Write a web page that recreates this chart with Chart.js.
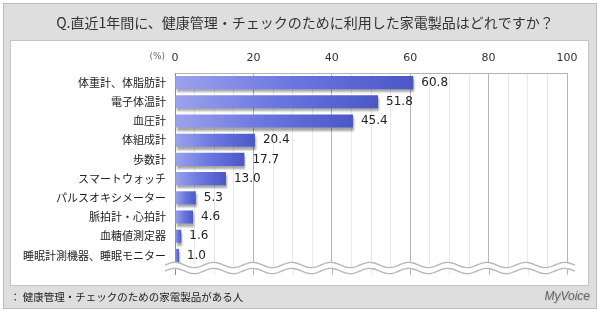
<!DOCTYPE html>
<html>
<head>
<meta charset="utf-8">
<script src="https://cdn.jsdelivr.net/npm/chart.js@4.4.1/dist/chart.umd.min.js"></script>
<style>
  html, body { margin: 0; padding: 0; background: #fff; }
  #wrap { width: 600px; height: 312px; }
</style>
</head>
<body>
<div id="wrap"><canvas id="chart" width="600" height="312"></canvas></div>
<script>
// chart data
const titleText = 'Q.直近1年間に、健康管理・チェックのために利用した家電製品はどれですか？';
const footnoteText = '： 健康管理・チェックのための家電製品がある人';
const unitLabel = '(%)';
const categories = ['体重計、体脂肪計', '電子体温計', '血圧計', '体組成計', '歩数計', 'スマートウォッチ', 'パルスオキシメーター', '脈拍計・心拍計', '血糖値測定器', '睡眠計測機器、睡眠モニター'];
const values = [60.8, 51.8, 45.4, 20.4, 17.7, 13.0, 5.3, 4.6, 1.6, 1.0];
const tickLabels = [0, 20, 40, 60, 80, 100];

const jpFont = '"Noto Sans CJK JP", "Noto Sans", sans-serif';
const numFont = '"DejaVu Sans", Verdana, sans-serif';

function gridColor(v) {
  if (v === 0) return '#8c8c8c';
  return v % 20 === 0 ? '#b4b4b4' : '#e8e8e8';
}

// frame, title and footer behind the chart
const framePlugin = {
  id: 'frame',
  beforeDraw(chart) {
    const ctx = chart.ctx;
    ctx.save();
    ctx.fillStyle = '#fff';
    ctx.fillRect(0, 0, 600, 312);
    ctx.fillStyle = '#dedede';
    ctx.fillRect(3.5, 3.5, 593, 305);
    ctx.strokeStyle = '#bdbdbd';
    ctx.lineWidth = 1;
    ctx.strokeRect(3.5, 3.5, 593, 305);
    ctx.fillStyle = '#fff';
    ctx.fillRect(10.5, 40.5, 578, 245);
    ctx.strokeStyle = '#c4c4c4';
    ctx.strokeRect(10.5, 40.5, 578, 245);

    ctx.fillStyle = '#333';
    ctx.textBaseline = 'middle';
    ctx.textAlign = 'center';
    ctx.font = '14px ' + jpFont;
    ctx.fillText(titleText, 305, 23);

    ctx.textAlign = 'left';
    ctx.font = '10.5px ' + jpFont;
    ctx.fillStyle = '#222';
    ctx.fillText(footnoteText, 10, 297);

    ctx.textAlign = 'right';
    ctx.font = 'italic 12px "Liberation Sans", Arial, sans-serif';
    ctx.fillStyle = '#c8c8c8';
    ctx.fillText('MyVoice', 591, 298);
    ctx.fillStyle = '#666';
    ctx.fillText('MyVoice', 590, 297);

    ctx.font = '9px ' + numFont;
    ctx.fillStyle = '#666';
    ctx.fillText(unitLabel, chart.chartArea.left - 10, 57);
    ctx.restore();
  },
  beforeDatasetsDraw(chart) {
    const ctx = chart.ctx;
    ctx.save();
    ctx.shadowColor = 'rgba(0,0,0,0.35)';
    ctx.shadowOffsetX = 1;
    ctx.shadowOffsetY = 3;
    ctx.shadowBlur = 2;
  },
  afterDatasetsDraw(chart) {
    const ctx = chart.ctx;
    ctx.restore();
    // value labels
    ctx.save();
    ctx.font = '12px ' + numFont;
    ctx.fillStyle = '#222';
    ctx.textAlign = 'left';
    ctx.textBaseline = 'middle';
    chart.getDatasetMeta(0).data.forEach((bar, i) => {
      ctx.fillText(values[i].toFixed(1), bar.x + 8, bar.y);
    });
    ctx.restore();
  },
  afterDraw(chart) {
    const ctx = chart.ctx;
    const area = chart.chartArea;
    const xs = chart.scales.x;
    ctx.save();
    // grid lines run on past the break
    xs.ticks.forEach(t => {
      const x = Math.round(xs.getPixelForValue(t.value)) + 0.5;
      ctx.strokeStyle = gridColor(t.value);
      ctx.beginPath();
      ctx.moveTo(x, area.bottom);
      ctx.lineTo(x, 275);
      ctx.stroke();
    });
    // wavy break
    const x0 = 165, x1 = 575, yA = 265, yB = 271, amp = 2.6, period = 39;
    const wave = (y, dir) => {
      const pts = [];
      for (let x = x0; x <= x1; x += 1) {
        pts.push([x, y - amp * Math.sin((x - x0) / period * Math.PI * 2)]);
      }
      return dir ? pts : pts.reverse();
    };
    const top = wave(yA, true), bot = wave(yB, false);
    ctx.fillStyle = '#fff';
    ctx.beginPath();
    top.concat(bot).forEach((p, i) => i ? ctx.lineTo(p[0], p[1]) : ctx.moveTo(p[0], p[1]));
    ctx.closePath();
    ctx.fill();
    ctx.strokeStyle = '#b8b8b8';
    ctx.lineWidth = 1.4;
    [top, bot].forEach(line => {
      ctx.beginPath();
      line.forEach((p, i) => i ? ctx.lineTo(p[0], p[1]) : ctx.moveTo(p[0], p[1]));
      ctx.stroke();
    });
    ctx.restore();
  }
};

new Chart(document.getElementById('chart'), {
  type: 'bar',
  data: {
    labels: categories,
    datasets: [{
      data: values,
      barPercentage: 0.68,
      categoryPercentage: 1.0,
      backgroundColor: (c) => {
        const chart = c.chart;
        const area = chart.chartArea;
        if (!area || c.raw === undefined) return '#6470dc';
        const xEnd = chart.scales.x.getPixelForValue(c.raw);
        const g = chart.ctx.createLinearGradient(area.left, 0, Math.max(xEnd, area.left + 2), 0);
        g.addColorStop(0, '#9ca2ec');
        g.addColorStop(0.5, '#6a76e0');
        g.addColorStop(1, '#4a58c6');
        return g;
      }
    }]
  },
  options: {
    indexAxis: 'y',
    responsive: false,
    animation: false,
    events: [],
    layout: { padding: { top: 48, right: 33, bottom: 47, left: 0 } },
    plugins: { legend: { display: false }, tooltip: { enabled: false } },
    scales: {
      x: {
        position: 'top',
        min: 0,
        max: 100,
        afterFit: (s) => { s.height = 25; },
        ticks: {
          stepSize: 5,
          autoSkip: false,
          maxRotation: 0,
          padding: 8,
          color: '#333',
          font: { family: numFont, size: 11 },
          callback: (v) => tickLabels.includes(v) ? String(v) : ''
        },
        grid: {
          drawTicks: false,
          color: (c) => gridColor(c.tick.value)
        },
        border: { display: true, color: '#b4b4b4' }
      },
      y: {
        afterFit: (s) => { s.width = 175; },
        ticks: {
          padding: 9,
          color: '#222',
          font: { family: jpFont, size: 11 }
        },
        grid: { display: false, drawTicks: false },
        border: { display: true, color: '#8c8c8c' }
      }
    }
  },
  plugins: [framePlugin]
});
</script>
</body>
</html>
